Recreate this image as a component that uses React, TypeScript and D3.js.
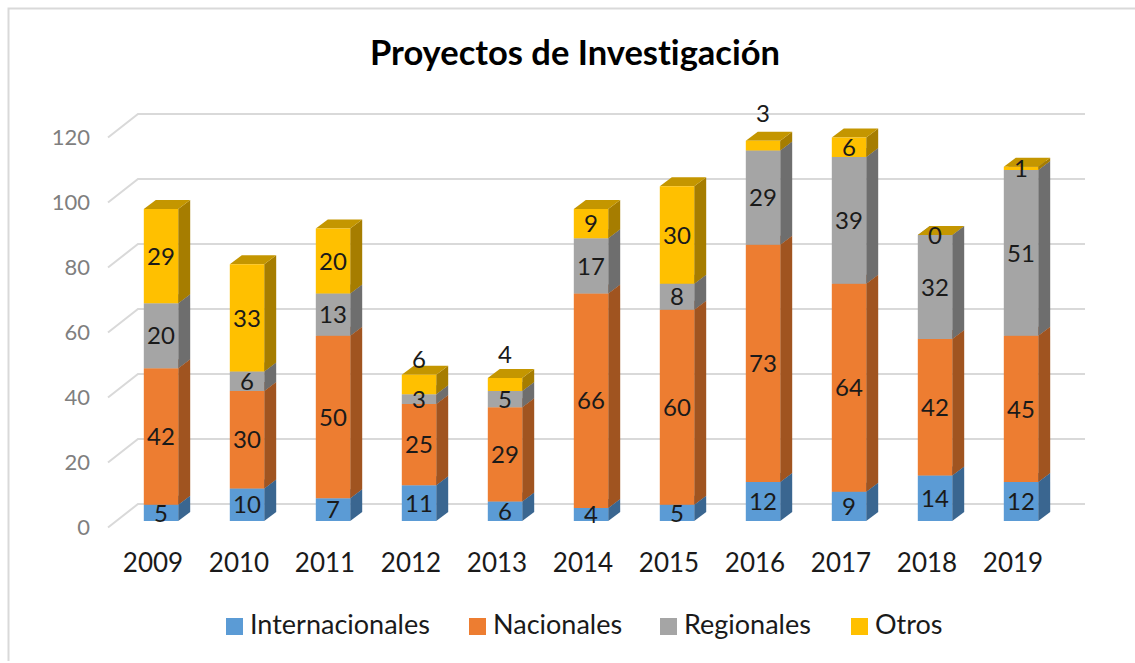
import React from "react";
import * as d3 from "d3";

const years = ["2009", "2010", "2011", "2012", "2013", "2014", "2015", "2016", "2017", "2018", "2019"];
const internacionales = [5, 10, 7, 11, 6, 4, 5, 12, 9, 14, 12];
const nacionales = [42, 30, 50, 25, 29, 66, 60, 73, 64, 42, 45];
const regionales = [20, 6, 13, 3, 5, 17, 8, 29, 39, 32, 51];
const otros = [29, 33, 20, 6, 4, 9, 30, 3, 6, 0, 1];
const yTicks = [0, 20, 40, 60, 80, 100, 120];

const seriesNames = ["Internacionales", "Nacionales", "Regionales", "Otros"];
const seriesValues = [internacionales, nacionales, regionales, otros];
const front = ["#5B9BD5", "#ED7D31", "#A5A5A5", "#FFC000"];
const side = ["#3A6690", "#A05420", "#6E6E6E", "#A67D00"];
const topFace = ["#477CAB", "#BD6427", "#848484", "#C49600"];

const WIDTH = 1135;
const HEIGHT = 663;
const FONT = "Lato, 'Open Sans', sans-serif";
const DX = 12; // bar depth
const DY = 9;

// labels that excel pushed above the little segments
const labelShift: Record<string, number> = { "3-3": -25, "3-4": -30, "3-7": -32 };

const rows = years.map((year, i) => ({
  year,
  Internacionales: internacionales[i],
  Nacionales: nacionales[i],
  Regionales: regionales[i],
  Otros: otros[i],
}));

export default function App() {
  const x = d3.scaleBand().domain(years).range([118, 1064]).paddingInner(0.6).paddingOuter(0.3);
  const y = d3.scaleLinear().domain([0, 120]).range([521, 131]);
  const stacked = d3.stack<any>().keys(seriesNames)(rows);
  const bw = x.bandwidth();

  return (
    <svg
      width={WIDTH}
      height={HEIGHT}
      style={{ position: "absolute", left: 0, top: 0, background: "#fff", fontVariantLigatures: "none" }}
      fontFamily={FONT}
    >
      <path d={`M8.5,661V8.5H${WIDTH}`} fill="none" stroke="#D9D9D9" strokeWidth={2} />

      <text x={575} y={65} textAnchor="middle" fontSize={34.5} fontWeight={700} fill="#000">
        Proyectos de Investigación
      </text>

      {yTicks.map((t) => (
        <g key={t}>
          <path
            d={`M108,${y(t) + 6.5}L138,${y(t) - 17}H1085`}
            fill="none"
            stroke="#D9D9D9"
            strokeWidth={2}
          />
          <text x={90} y={y(t) + 14} textAnchor="end" fontSize={22} fill="#7F7F7F">
            {t}
          </text>
        </g>
      ))}

      {stacked.map((layer, s) =>
        layer.map((d, i) => {
          const left = x(years[i]) as number;
          const right = left + bw;
          const y0 = y(d[0]);
          const y1 = y(d[1]);
          return (
            <g key={`${s}-${i}`}>
              <path
                d={`M${right},${y0}l${DX},${-DY}V${y1 - DY}L${right},${y1}Z`}
                fill={side[s]}
              />
              <path
                d={`M${left},${y1}l${DX},${-DY}H${right + DX}L${right},${y1}Z`}
                fill={topFace[s]}
              />
              <rect x={left} y={y1} width={bw} height={y0 - y1} fill={front[s]} />
            </g>
          );
        })
      )}

      {stacked.map((layer, s) =>
        layer.map((d, i) => (
          <text
            key={`${s}-${i}`}
            x={(x(years[i]) as number) + bw / 2}
            y={(y(d[0]) + y(d[1])) / 2 + (labelShift[`${s}-${i}`] || 0)}
            dy="0.36em"
            textAnchor="middle"
            fontSize={24}
            fill="#1A1A1A"
          >
            {seriesValues[s][i]}
          </text>
        ))
      )}

      {years.map((year) => (
        <text
          key={year}
          x={(x(year) as number) + bw / 2 - 8}
          y={572}
          textAnchor="middle"
          fontSize={26}
          fill="#1A1A1A"
        >
          {year}
        </text>
      ))}

      {seriesNames.map((name, s) => {
        const legendX = [226, 469, 660, 851][s];
        return (
          <g key={name}>
            <rect x={legendX} y={618} width={17} height={17} fill={front[s]} />
            <text x={legendX + 24} y={634} fontSize={27} fill="#1A1A1A">
              {name}
            </text>
          </g>
        );
      })}
    </svg>
  );
}
